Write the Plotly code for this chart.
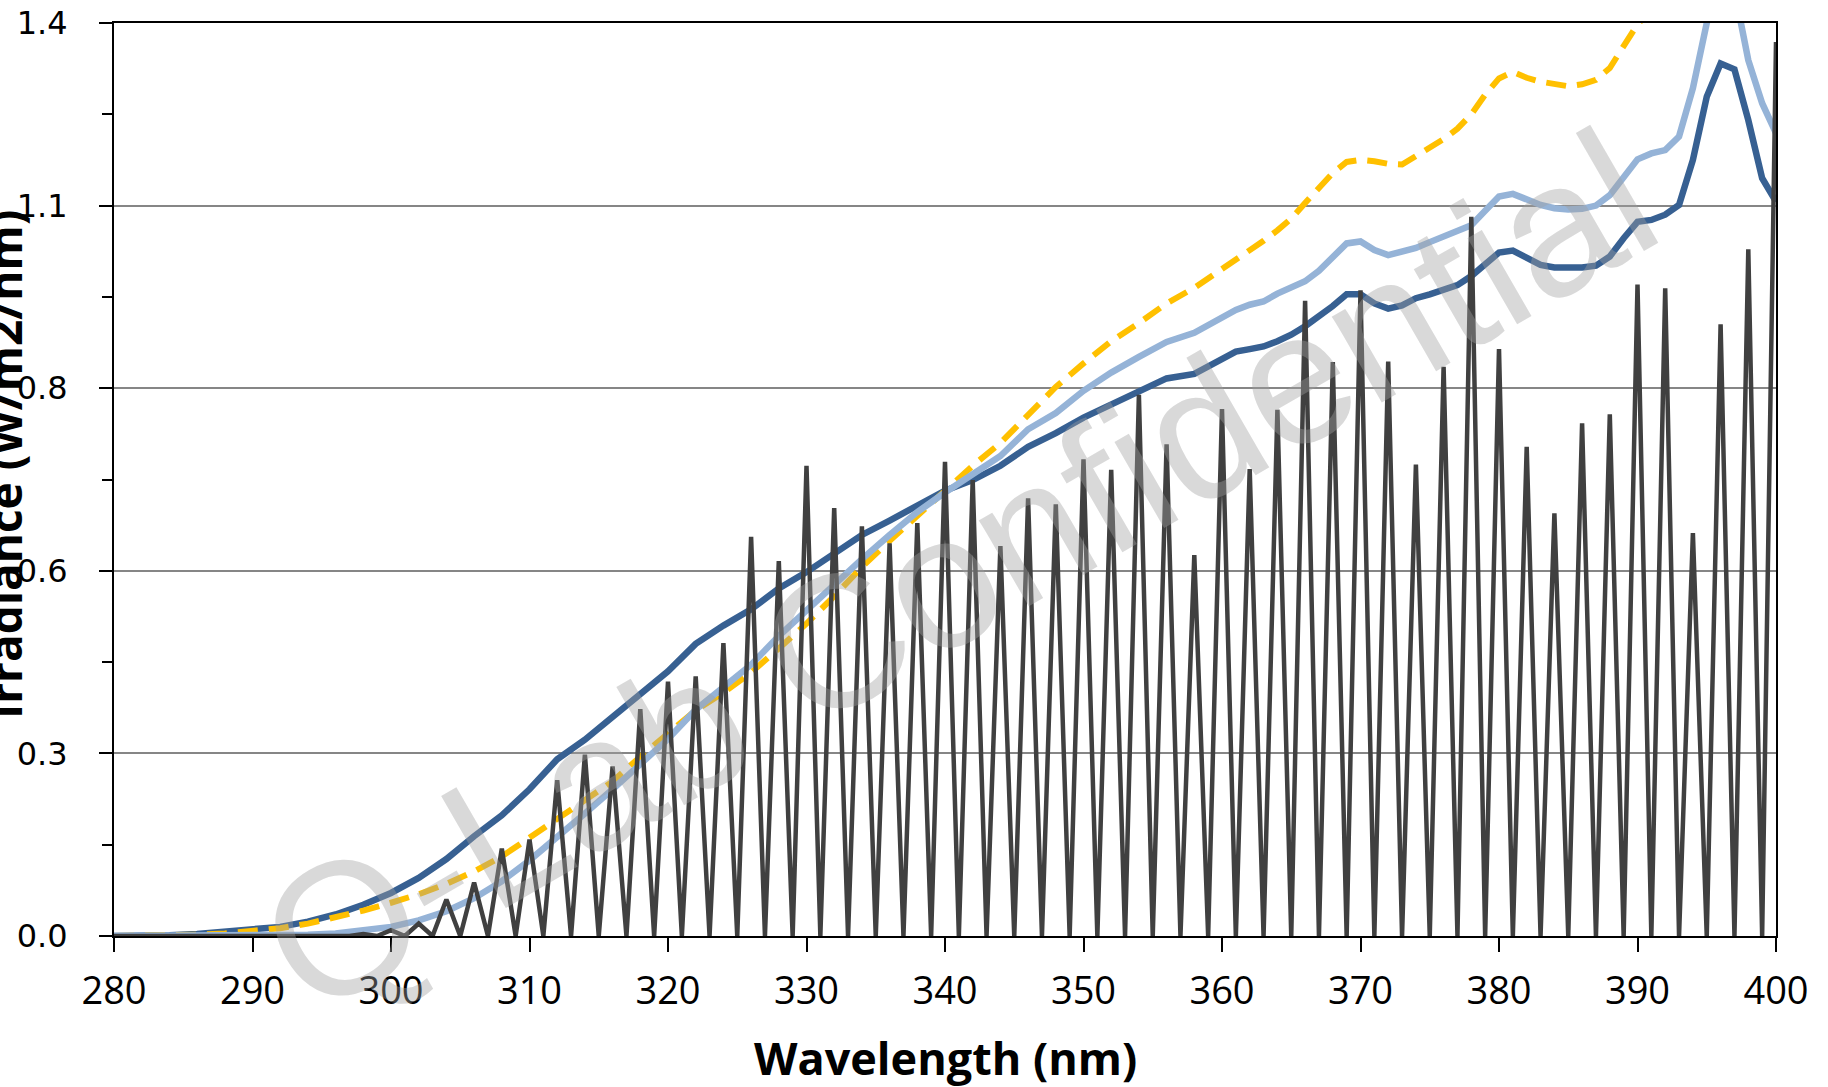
import plotly.graph_objects as go

# ---------------- data ----------------
wl_smooth = list(range(280, 360, 2)) + list(range(360, 401))

dark_blue = [
    0.000, 0.000, 0.001, 0.003, 0.006, 0.009, 0.014, 0.022, 0.033, 0.048,
    0.066, 0.089, 0.118, 0.153, 0.185, 0.225, 0.271, 0.301, 0.336, 0.370,
    0.406, 0.448, 0.476, 0.501, 0.533, 0.558, 0.588, 0.615, 0.637, 0.659,
    0.683, 0.699, 0.721, 0.750, 0.771, 0.795, 0.815, 0.834, 0.855, 0.862,
    0.884, 0.896, 0.900, 0.904, 0.912, 0.922, 0.935, 0.950, 0.966, 0.984,
    0.984, 0.970, 0.962, 0.967, 0.978, 0.984, 0.990, 0.998, 1.012, 1.030,
    1.048, 1.051, 1.040, 1.029, 1.025, 1.024, 1.025, 1.028, 1.042, 1.070,
    1.095, 1.098, 1.106, 1.121, 1.190, 1.287, 1.338, 1.329, 1.251, 1.162,
    1.126,
]

light_blue = [
    0.000, 0.000, 0.000, 0.000, 0.000, 0.000, 0.001, 0.002, 0.004, 0.008,
    0.014, 0.024, 0.038, 0.058, 0.084, 0.116, 0.151, 0.188, 0.225, 0.262,
    0.302, 0.347, 0.380, 0.416, 0.460, 0.500, 0.540, 0.578, 0.615, 0.650,
    0.680, 0.709, 0.736, 0.777, 0.802, 0.836, 0.864, 0.888, 0.911, 0.925,
    0.948, 0.960, 0.968, 0.973, 0.985, 0.995, 1.004, 1.020, 1.040, 1.062,
    1.065, 1.052, 1.044, 1.049, 1.055, 1.064, 1.072, 1.080, 1.090, 1.112,
    1.134, 1.138, 1.130, 1.121, 1.116, 1.114, 1.115, 1.120, 1.136, 1.165,
    1.191, 1.200, 1.205, 1.226, 1.300, 1.400, 1.460, 1.450, 1.343, 1.277,
    1.231,
]

yellow = [
    0.000, 0.000, 0.001, 0.002, 0.004, 0.007, 0.012, 0.019, 0.028, 0.039,
    0.051, 0.064, 0.080, 0.099, 0.122, 0.151, 0.180, 0.207, 0.237, 0.275,
    0.311, 0.346, 0.373, 0.404, 0.441, 0.479, 0.521, 0.566, 0.606, 0.645,
    0.685, 0.721, 0.756, 0.800, 0.842, 0.878, 0.912, 0.940, 0.970, 0.994,
    1.022, 1.036, 1.050, 1.066, 1.082, 1.100, 1.124, 1.148, 1.170, 1.187,
    1.190, 1.188, 1.184, 1.183, 1.196, 1.207, 1.222, 1.238, 1.260, 1.290,
    1.315, 1.325, 1.316, 1.310, 1.306, 1.303, 1.306, 1.313, 1.331, 1.365,
    1.398, 1.420, 1.430, 1.450, 1.520, 1.620, 1.680, 1.660, 1.580, 1.500,
    1.450,
]

wl_gray = list(range(280, 401))
gray = [
    0, 0, 0, 0, 0, 0, 0, 0, 0, 0,                 # 280-289
    0, 0, 0, 0, 0, 0, 0, 0, 0.003, 0,             # 290-299
    0.009, 0, 0.019, 0, 0.056, 0, 0.082, 0, 0.134, 0,   # 300-309
    0.148, 0, 0.239, 0, 0.278, 0, 0.260, 0, 0.348, 0,   # 310-319
    0.390, 0, 0.398, 0, 0.449, 0, 0.612, 0, 0.575, 0,   # 320-329
    0.721, 0, 0.656, 0, 0.628, 0, 0.602, 0, 0.633, 0,   # 330-339
    0.727, 0, 0.699, 0, 0.598, 0, 0.671, 0, 0.662, 0,   # 340-349
    0.731, 0, 0.715, 0, 0.830, 0, 0.754, 0, 0.584, 0,   # 350-359
    0.808, 0, 0.716, 0, 0.807, 0, 0.974, 0, 0.880, 0,   # 360-369
    0.990, 0, 0.881, 0, 0.723, 0, 0.873, 0, 1.103, 0,   # 370-379
    0.900, 0, 0.750, 0, 0.648, 0, 0.786, 0, 0.800, 0,   # 380-389
    0.999, 0, 0.993, 0, 0.618, 0, 0.938, 0, 1.053, 0,   # 390-399
    1.371,                                              # 400
]

x_ticks = list(range(280, 401, 10))
y_tickvals = [0.0, 0.28, 0.56, 0.84, 1.12, 1.40]
y_ticktext = ["0.0", "0.3", "0.6", "0.8", "1.1", "1.4"]
y_minor = [0.14, 0.42, 0.70, 0.98, 1.26]

x_title = "Wavelength (nm)"
y_title = "Irradiance (W/m2/nm)"
watermark = "Q-Lab Confidential"

# ---------------- figure ----------------
W, H = 1828, 1087
ML, MR, MT, MB = 114, 52, 23, 151
pw, ph = W - ML - MR, H - MT - MB

fig = go.Figure()
fig.add_trace(go.Scatter(x=wl_smooth, y=dark_blue, mode="lines",
                         line=dict(color="#376092", width=6.5), showlegend=False))
fig.add_trace(go.Scatter(x=wl_smooth, y=yellow, mode="lines",
                         line=dict(color="#FFC000", width=6, dash="20px,11px"),
                         showlegend=False))
fig.add_trace(go.Scatter(x=wl_smooth, y=light_blue, mode="lines",
                         line=dict(color="#95B3D7", width=6.5), showlegend=False))
fig.add_trace(go.Scatter(x=wl_gray, y=gray, mode="lines",
                         line=dict(color="#404040", width=4.5), showlegend=False))

fig.update_layout(
    width=W, height=H,
    margin=dict(l=ML, r=MR, t=MT, b=MB, pad=0, autoexpand=False),
    paper_bgcolor="white", plot_bgcolor="white",
    showlegend=False,
)

fig.update_xaxes(
    range=[280, 400], tickmode="array", tickvals=x_ticks,
    ticks="outside", ticklen=14, tickwidth=2, tickcolor="black",
    showline=True, linecolor="black", linewidth=2, mirror=True,
    showgrid=False, zeroline=False, automargin=False,
    tickfont=dict(family="Open Sans", size=38, color="black"),
    ticklabelstandoff=6,
)
fig.update_yaxes(
    range=[0, 1.4], tickmode="array", tickvals=y_tickvals, ticktext=y_ticktext,
    ticks="outside", ticklen=13, tickwidth=2, tickcolor="black",
    minor=dict(tickmode="array", tickvals=y_minor, ticks="outside", ticklen=10,
               tickwidth=2, tickcolor="black", showgrid=False),
    showline=True, linecolor="black", linewidth=2, mirror=True,
    showgrid=True, gridcolor="#868686", gridwidth=2, zeroline=False,
    automargin=False,
    tickfont=dict(family="DejaVu Sans", size=32, color="black"),
    ticklabelstandoff=25,
)

def px_to_paper_x(px):
    return (px - ML) / pw

def px_to_paper_y(py):
    return (H - MB - py) / ph

fig.add_annotation(text=f"<b>{x_title}</b>", xref="paper", yref="paper",
                   x=px_to_paper_x(945), y=px_to_paper_y(1057),
                   xanchor="center", yanchor="middle", showarrow=False,
                   font=dict(family="Open Sans", size=45, color="black"))
fig.add_annotation(text=f"<b>{y_title}</b>", xref="paper", yref="paper",
                   x=px_to_paper_x(4), y=px_to_paper_y(465),
                   xanchor="center", yanchor="middle", showarrow=False,
                   textangle=-90,
                   font=dict(family="Open Sans", size=46, color="black"))
fig.add_annotation(text=watermark, xref="paper", yref="paper",
                   x=px_to_paper_x(958), y=px_to_paper_y(572),
                   xanchor="center", yanchor="middle", showarrow=False,
                   textangle=-30,
                   font=dict(family="Liberation Sans", size=188,
                             color="rgba(160,160,160,0.4)"))

fig.write_html("out.html")
